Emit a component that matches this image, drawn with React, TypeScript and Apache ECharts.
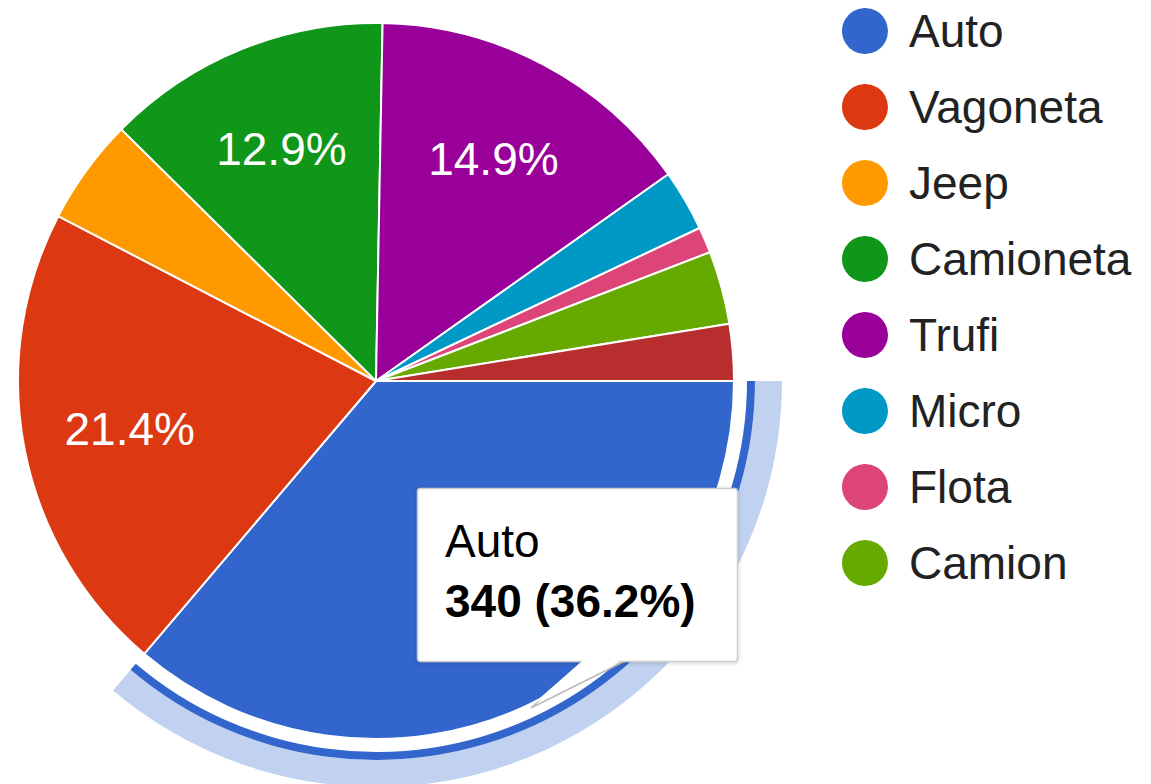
import React, { useEffect, useRef } from "react";
import * as echarts from "echarts";

const categories = ["Auto", "Vagoneta", "Jeep", "Camioneta", "Trufi", "Micro", "Flota", "Camion", "Otros"];
const values = [340, 201, 45, 121, 140, 26, 11, 31, 24];
const colors = ["#3366cc", "#dc3912", "#ff9900", "#109618", "#990099", "#0099c6", "#dd4477", "#66aa00", "#b82e2e"];
const legendItems = categories.slice(0, 8);
const labeledSlices = ["Vagoneta", "Camioneta", "Trufi"];
const highlighted = "Auto";

const FONT = "'Liberation Sans', Arial, sans-serif";

export default function App() {
  const ref = useRef<HTMLDivElement>(null);
  useEffect(() => {
    if (!ref.current) return;
    const chart = echarts.init(ref.current, undefined, { renderer: "svg" });
    const total = values.reduce((a, b) => a + b, 0);
    const hiIdx = categories.indexOf(highlighted);
    const hiVal = values[hiIdx];
    const pct = (v: number) => ((v / total) * 100).toFixed(1) + "%";
    const center = [376, 381];

    const mainData = categories.map((name, i) => ({
      name,
      value: values[i],
      itemStyle: { color: colors[i] },
    }));
    const labelData = categories.map((name, i) => ({
      name,
      value: values[i],
      label: { show: labeledSlices.includes(name) },
    }));
    const ringData = (color: string) => [
      { name: highlighted, value: hiVal, itemStyle: { color } },
      { name: "_rest", value: total - hiVal, itemStyle: { color: "rgba(0,0,0,0)" } },
    ];

    chart.setOption({
      animation: false,
      color: colors,
      legend: {
        orient: "vertical",
        left: 840,
        top: 6,
        padding: 0,
        icon: "circle",
        itemWidth: 48,
        itemHeight: 48,
        itemGap: 26,
        data: legendItems,
        selectedMode: false,
        textStyle: { fontSize: 46, color: "#222222", fontFamily: FONT, padding: [0, 0, 0, 15] },
      },
      series: [
        {
          type: "pie",
          name: "main",
          center,
          radius: [0, 358],
          startAngle: 0,
          clockwise: true,
          silent: true,
          label: { show: false },
          labelLine: { show: false },
          itemStyle: { borderColor: "#ffffff", borderWidth: 2 },
          data: mainData,
          z: 2,
        },
        {
          type: "pie",
          name: "labels",
          center,
          radius: [138, 358],
          startAngle: 0,
          clockwise: true,
          silent: true,
          legendHoverLink: false,
          itemStyle: { color: "rgba(0,0,0,0)", borderWidth: 0 },
          label: {
            position: "inside",
            color: "#ffffff",
            fontSize: 46,
            fontFamily: FONT,
            formatter: (p: any) => pct(p.value),
          },
          labelLine: { show: false },
          data: labelData,
          z: 3,
        },
        {
          type: "pie",
          name: "ringLight",
          center,
          radius: [379, 406],
          startAngle: 0,
          clockwise: true,
          silent: true,
          label: { show: false },
          labelLine: { show: false },
          data: ringData("rgba(51,102,204,0.3)"),
          z: 2,
        },
        {
          type: "pie",
          name: "ringDark",
          center,
          radius: [371, 379],
          startAngle: 0,
          clockwise: true,
          silent: true,
          label: { show: false },
          labelLine: { show: false },
          data: ringData("#3366cc"),
          z: 2,
        },
      ],
      graphic: [
        {
          type: "polygon",
          z: 100,
          shape: { points: [[583, 661], [625, 661], [531, 708]] },
          style: { fill: "#ffffff", stroke: "#bbbbbb", lineWidth: 1.5 },
        },
        {
          type: "rect",
          z: 101,
          shape: { x: 417.5, y: 488.5, width: 320, height: 173, r: 3 },
          style: {
            fill: "#ffffff",
            stroke: "#cccccc",
            lineWidth: 1.5,
            shadowBlur: 4,
            shadowColor: "rgba(0,0,0,0.2)",
            shadowOffsetY: 1,
          },
        },
        {
          type: "polygon",
          z: 102,
          shape: { points: [[584.5, 659], [623.5, 659], [533, 704]] },
          style: { fill: "#ffffff" },
        },
        {
          type: "text",
          z: 103,
          style: {
            text: highlighted,
            x: 445,
            y: 541,
            fill: "#000000",
            font: `46px ${FONT}`,
            verticalAlign: "middle",
          },
        },
        {
          type: "text",
          z: 103,
          style: {
            text: `${hiVal} (${pct(hiVal)})`,
            x: 445,
            y: 601,
            fill: "#000000",
            font: `bold 46px ${FONT}`,
            verticalAlign: "middle",
          },
        },
      ],
    });
    return () => chart.dispose();
  }, []);
  return (
    <div
      ref={ref}
      style={{ position: "absolute", left: 0, top: 0, width: 1151, height: 784, background: "#ffffff" }}
    />
  );
}
